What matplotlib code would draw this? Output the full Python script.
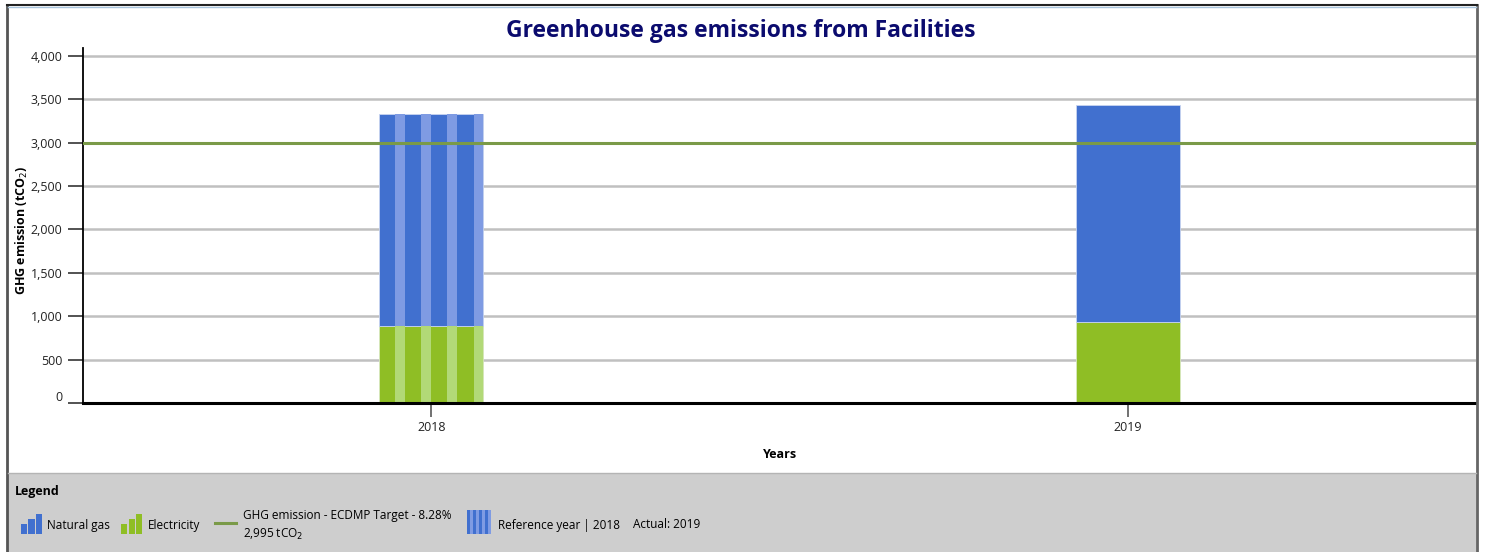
import matplotlib
matplotlib.use("Agg")
import matplotlib.pyplot as plt
from matplotlib.patches import Rectangle
from matplotlib.lines import Line2D
from matplotlib.transforms import ScaledTranslation

# data
years = ["2018", "2019"]
electricity = [890, 935]
natural_gas = [2435, 2495]
target = 2995
yticks = [0, 500, 1000, 1500, 2000, 2500, 3000, 3500, 4000]

GAS = "#4170CF"
GAS_LT = "#7F9BE3"
ELEC = "#8FBE25"
ELEC_LT = "#B2D977"
TARGET = "#7A9A48"
W, H = 1485, 552

plt.rcParams["font.family"] = ["Open Sans", "DejaVu Sans"]

fig = plt.figure(figsize=(W / 100, H / 100), dpi=100)


def fx(px):
    return px / W


def fy(py):
    return 1 - py / H


# outer frame + legend strip
fig.patches.append(Rectangle((fx(7), 0), fx(1477 - 7), fy(473), transform=fig.transFigure,
                             facecolor="#CECECE", edgecolor="none", zorder=0))
fig.add_artist(Line2D([fx(7), fx(7)], [0, fy(5)], color="#555555", lw=2))
fig.add_artist(Line2D([fx(1477), fx(1477)], [0, fy(5)], color="#666666", lw=2))
fig.add_artist(Line2D([fx(7), fx(1477)], [fy(5), fy(5)], color="#222222", lw=1.5))
fig.add_artist(Line2D([fx(8), fx(1476)], [fy(6.5), fy(6.5)], color="#A8C4DC", lw=1))
fig.add_artist(Line2D([fx(8), fx(1476)], [fy(473), fy(473)], color="#B4B4B4", lw=1))

ax = fig.add_axes([fx(83), fy(403), fx(1476 - 83), fy(48) - fy(403)])
x = range(len(years))
bw = 0.15

ax.bar(x, electricity, width=bw, color=ELEC, edgecolor="#D8E8C0", lw=0.6, zorder=3)
ax.bar(x, natural_gas, bottom=electricity, width=bw, color=GAS, edgecolor="#C8D4F0", lw=0.6, zorder=3)

# reference year (first bar) gets light stripes
ref = 0
n_stripes = 4
sw = bw / n_stripes
for i in range(n_stripes):
    left = ref - bw / 2 + (i + 0.62) * sw
    ax.bar(left, electricity[ref], width=sw * 0.38, align="edge", color=ELEC_LT, lw=0, zorder=4)
    ax.bar(left, natural_gas[ref], bottom=electricity[ref], width=sw * 0.38, align="edge",
           color=GAS_LT, lw=0, zorder=4)

ax.axhline(target, color=TARGET, lw=2.2, zorder=5)

ax.set_xlim(-0.5, 1.5)
ax.set_ylim(0, 4090)
ax.set_yticks(yticks)
ax.set_yticklabels([f"{v:,}" for v in yticks], fontsize=9, color="#222222")
ax.set_xticks(list(x))
ax.set_xticklabels(years, fontsize=9, color="#222222")
ax.grid(axis="y", color="#C0C0C0", lw=1.8, zorder=0)
ax.set_axisbelow(True)
ax.tick_params(axis="y", length=11, width=1.3, color="#444444", pad=4)
ax.tick_params(axis="x", length=10, width=1.3, color="#666666", pad=3)
for s in ["top", "right"]:
    ax.spines[s].set_visible(False)
ax.spines["left"].set_linewidth(1.3)
ax.spines["bottom"].set_linewidth(2.2)
ax.spines["bottom"].set_zorder(6)

# the zero label sits a little above its tick in the original
zl = ax.get_yticklabels()[0]
zl.set_transform(zl.get_transform() + ScaledTranslation(0, 0.07, fig.dpi_scale_trans))

fig.text(fx(780), fy(455), "Years", fontsize=9, fontweight="bold", ha="center", va="center")
fig.text(fx(22), fy(230), "GHG emission (tCO$_2$)", rotation=90, fontsize=9,
         fontweight="bold", ha="center", va="center")

fig.text(fx(741), fy(31), "Greenhouse gas emissions from Facilities", fontsize=16.5,
         fontweight="bold", color="#0B0B6E", ha="center", va="center")

# legend strip
fig.text(fx(15), fy(491), "Legend", fontsize=9, fontweight="bold", va="center")


def bar_icon(x0, color):
    for k, h in enumerate([10, 15, 20]):
        fig.patches.append(Rectangle((fx(x0 + k * 7.5), fy(534)), fx(6.2), h / H,
                                     transform=fig.transFigure, color=color, lw=0, zorder=2))


bar_icon(21, GAS)
fig.text(fx(47), fy(525), "Natural gas", fontsize=8.5, va="center")
bar_icon(121, ELEC)
fig.text(fx(148), fy(525), "Electricity", fontsize=8.5, va="center")
fig.add_artist(Line2D([fx(215), fx(236)], [fy(523), fy(523)], color=TARGET, lw=2.2))
fig.text(fx(243), fy(516), "GHG emission - ECDMP Target - 8.28%", fontsize=8.5, va="center")
fig.text(fx(243), fy(534), f"{target:,} tCO$_2$", fontsize=8.5, va="center")
for k in range(8):
    fig.patches.append(Rectangle((fx(467 + k * 3), fy(534)), fx(3), 24 / H,
                                 transform=fig.transFigure, lw=0,
                                 color=GAS if k % 2 == 0 else GAS_LT, zorder=2))
fig.text(fx(498), fy(525), "Reference year | 2018", fontsize=8.5, va="center")
fig.text(fx(633), fy(525), "Actual: 2019", fontsize=8.5, va="center")

fig.savefig("out.png", dpi=100, facecolor="white")
